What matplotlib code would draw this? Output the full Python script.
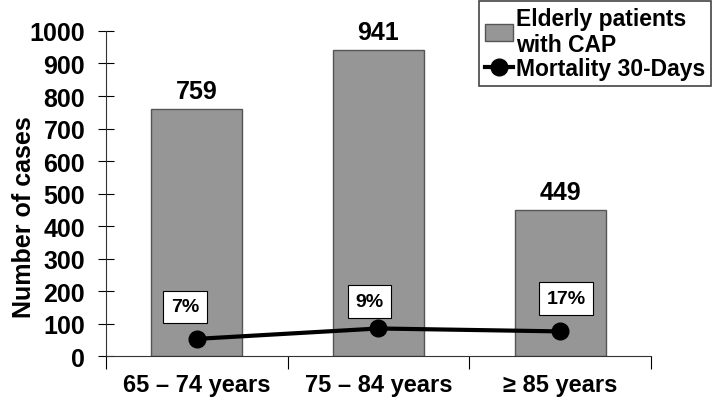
import matplotlib
matplotlib.use('Agg')
import numpy as np
import matplotlib.pyplot as plt

# 数据
categories = ['65 – 74 years', '75 – 84 years', '≥ 85 years']
patients = [759, 941, 449]
deaths = [53, 85, 76]          # 30天死亡人数
mortality_labels = ['7%', '9%', '17%']

plt.rcParams['font.family'] = ['Liberation Sans', 'DejaVu Sans']

fig = plt.figure(figsize=(7.18, 4.10), dpi=100)
ax = fig.add_axes([0.1476, 0.129, 0.759, 0.793])

x = np.arange(len(categories))
bars = ax.bar(x, patients, width=0.5, color='#969696', edgecolor='#555555', linewidth=1,
              label='Elderly patients\nwith CAP', zorder=2)
line, = ax.plot(x, deaths, color='black', linewidth=3, marker='o', markersize=12,
                label='Mortality 30-Days', zorder=3)

# 柱子上方的数值
for xi, v in zip(x, patients):
    ax.text(xi, v + 18, str(v), ha='center', va='bottom', fontsize=18, fontweight='bold')

# 死亡率标签
offsets = [(-12, 32), (-9, 27), (6, 33)]
for xi, v, lab, off in zip(x, deaths, mortality_labels, offsets):
    ax.annotate(lab, (xi, v), xytext=off, textcoords='offset pixels',
                ha='center', va='center', fontsize=14, fontweight='bold',
                bbox=dict(boxstyle='square,pad=0.4', fc='white', ec='black', lw=0.8),
                zorder=4)

ax.set_xlim(-0.5, 2.5)
ax.set_ylim(0, 1000)
ax.set_yticks(np.arange(0, 1001, 100))
ax.tick_params(axis='y', labelsize=18, direction='inout', length=12, width=0.8, pad=9)
for t in ax.get_yticklabels():
    t.set_fontweight('bold')

ax.set_xticks(x)
ax.set_xticklabels(categories, fontsize=17, fontweight='bold')
ax.tick_params(axis='x', length=0, pad=12)
ax.set_xticks([-0.5, 0.5, 1.5, 2.5], minor=True)
ax.tick_params(axis='x', which='minor', direction='out', length=9, width=0.8)

for s in ['top', 'right']:
    ax.spines[s].set_visible(False)
for s in ['left', 'bottom']:
    ax.spines[s].set_linewidth(0.8)
    ax.spines[s].set_color('#333333')

ax.set_ylabel('Number of cases', fontsize=18, fontweight='bold')
ax.yaxis.set_label_coords(-0.128, 0.43)

leg = ax.legend([bars, line], ['Elderly patients\nwith CAP', 'Mortality 30-Days'],
                loc='upper right', bbox_to_anchor=(711 / 718, 1 - 2 / 410),
                bbox_transform=fig.transFigure, fancybox=False, framealpha=1,
                edgecolor='#444444', prop={'size': 16.5, 'weight': 'bold'},
                handlelength=1.2, handletextpad=0.15, borderpad=0.25,
                labelspacing=0.05, borderaxespad=0)
leg.get_frame().set_linewidth(1.2)

fig.savefig('out.png', dpi=100)
